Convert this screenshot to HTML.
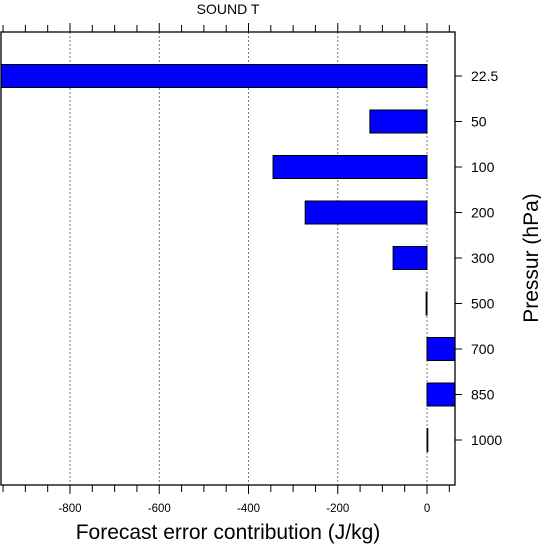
<!DOCTYPE html>
<html><head><meta charset="utf-8"><style>
html,body{margin:0;padding:0;background:#fff}
svg{display:block;font-family:"Liberation Sans",Helvetica,Arial,sans-serif}
</style></head><body>
<svg id="chart" width="541" height="545" viewBox="0 0 541 545"></svg>
<script>
const categories=["22.5","50","100","200","300","500","700","850","1000"];
const values=[-960,-128,-345,-273,-76,-2,70,70,1];
const xTickLabels=[-800,-600,-400,-200,0];
const xMin=-954.6,xMax=62.7;
const L=1,R=455,T=32,B=485;
const svg=document.getElementById('chart');
const NS='http://www.w3.org/2000/svg';
function x(v){return L+(v-xMin)/(xMax-xMin)*(R-L);}
function yc(i){return 76+i*45.5;}
function mk(tag,attrs,parent){const e=document.createElementNS(NS,tag);for(const k in attrs)e.setAttribute(k,attrs[k]);(parent||svg).appendChild(e);return e;}
const clip=mk('clipPath',{id:'pc'});mk('rect',{x:L,y:T,width:R-L,height:B-T},clip);
xTickLabels.forEach(v=>{
 const g=mk('line',{x1:x(v),x2:x(v),y1:T,y2:B,stroke:'#555','stroke-width':0.8,'stroke-dasharray':'2,2'});
 
 
});
const bg=mk('g',{'clip-path':'url(#pc)'});
categories.forEach((c,i)=>{
 const v=values[i];const x0=x(0),x1=x(v);
 const r=mk('rect',{x:Math.min(x0,x1),y:yc(i)-11.5,width:Math.max(Math.abs(x1-x0),0.8),height:23,fill:'#0000ff',stroke:'#000','stroke-width':1},bg);
 
 
});
const f=mk('rect',{x:L,y:T,width:R-L,height:B-T,fill:'none',stroke:'#000','stroke-width':1.3});


for(let v=-950;v<=50;v+=50){
 const major=v%200===0;
 mk('line',{x1:x(v),x2:x(v),y1:B,y2:B+(major?9:7),stroke:'#000','stroke-width':1});
 mk('line',{x1:x(v),x2:x(v),y1:T,y2:T-(major?9:7),stroke:'#000','stroke-width':1});
}
xTickLabels.forEach(v=>{
 const t=mk('text',{x:x(v),y:512,'font-size':11.5,'text-anchor':'middle'});t.textContent=v;
 
 
});
categories.forEach((c,i)=>{
 mk('line',{x1:R,x2:R+7,y1:yc(i),y2:yc(i),stroke:'#000','stroke-width':1});
 const t=mk('text',{x:471,y:yc(i)+5,'font-size':14});t.textContent=c;
 
 
});
const xt=mk('text',{x:228,y:539,'font-size':21,'text-anchor':'middle'});xt.textContent='Forecast error contribution (J/kg)';


const yt=mk('text',{x:0,y:0,'font-size':21,'text-anchor':'middle',transform:'translate(538,258) rotate(-90)'});yt.textContent='Pressur (hPa)';


const tt=mk('text',{x:228,y:14,'font-size':14,'text-anchor':'middle'});tt.textContent='SOUND  T';
tt.setAttribute('xml:space','preserve');


</script>
</body></html>
